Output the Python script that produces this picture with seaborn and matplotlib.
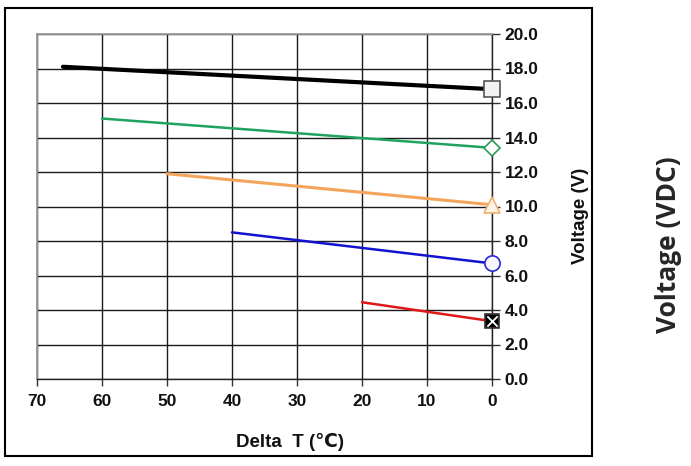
import numpy as np
import pandas as pd
import matplotlib
matplotlib.use("Agg")
import matplotlib.pyplot as plt
import seaborn as sns
from matplotlib.patches import Rectangle

# series: (delta T start, delta T end) and voltages
black_t = [66, 0]
black_v = [18.1, 16.8]
green_t = [60, 0]
green_v = [15.1, 13.4]
orange_t = [50, 0]
orange_v = [11.9, 10.1]
blue_t = [40, 0]
blue_v = [8.5, 6.7]
red_t = [20, 0]
red_v = [4.45, 3.35]

x_ticks = [70, 60, 50, 40, 30, 20, 10, 0]
y_ticks = [0, 2, 4, 6, 8, 10, 12, 14, 16, 18, 20]

sns.set_style("white")
plt.rcParams["font.family"] = ["Liberation Sans", "DejaVu Sans"]
plt.rcParams["font.weight"] = "bold"

fig = plt.figure(figsize=(6.91, 4.66), dpi=100)
ax = fig.add_axes([37 / 691, 1 - 379 / 466, 455 / 691, 345 / 466])

series = [
    (black_t, black_v, "black", 3.0, "s", 11, "#f2f2f2", "#555555"),
    (green_t, green_v, "#1fa35f", 1.8, "D", 8, "white", "#2a9d5c"),
    (orange_t, orange_v, "#f5a55a", 2.2, "^", 12, "#fff4e6", "#f0b070"),
    (blue_t, blue_v, "#1212d0", 1.8, "o", 11, "#f7f7ff", "#2a2ad0"),
    (red_t, red_v, "#e01818", 1.8, "s", 10, "black", "#333333"),
]

for t, v, col, lw, mk, ms, mfc, mec in series:
    df = pd.DataFrame({"t": t, "v": v})
    # keep the given order so the marker sits on the last point (delta T = 0)
    sns.lineplot(data=df, x="t", y="v", ax=ax, sort=False, color=col,
                 linewidth=lw, marker=mk, markevery=[len(t) - 1],
                 markersize=ms, markerfacecolor=mfc, markeredgecolor=mec,
                 markeredgewidth=1.2, clip_on=False, zorder=5)

# white cross inside the black square of the last series
sns.scatterplot(x=[red_t[-1]], y=[red_v[-1]], ax=ax, marker="x", color="white",
                s=55, linewidth=1.3, clip_on=False, zorder=6)

ax.set_xlim(70, 0)
ax.set_ylim(0, 20)
ax.set_xticks(x_ticks)
ax.set_yticks(y_ticks)
ax.set_yticklabels([f"{y:.1f}" for y in y_ticks])
ax.grid(True, color="#1a1a1a", linewidth=1.0)
ax.set_axisbelow(True)

ax.yaxis.tick_right()
ax.yaxis.set_label_position("right")
ax.tick_params(axis="y", which="major", direction="out", length=6, width=1,
               color="#333333", labelsize=12.5, pad=3, right=True, left=False)
ax.tick_params(axis="x", which="major", direction="out", length=5, width=1,
               color="#333333", labelsize=12.5, pad=6, bottom=True)
for lab in ax.get_xticklabels() + ax.get_yticklabels():
    lab.set_fontweight("bold")
    lab.set_color("#111111")

for side in ["left", "top"]:
    ax.spines[side].set_color("#9a9a9a")
    ax.spines[side].set_linewidth(1.3)
for side in ["right", "bottom"]:
    ax.spines[side].set_color("#222222")
    ax.spines[side].set_linewidth(1.0)

ax.set_xlabel("Delta  T (\u2103)", fontsize=13.5, fontweight="bold", color="#111111")
ax.xaxis.set_label_coords((290 - 37) / 455, -(433 - 379) / 345)
ax.set_ylabel("Voltage (V)", fontsize=13.5, fontweight="bold", color="#111111")
ax.yaxis.set_label_coords((572 - 37) / 455, (379 - 216) / 345)

# outer frame
fig.patches.append(Rectangle((5 / 691, 1 - 456 / 466), 587 / 691, 448 / 466,
                             transform=fig.transFigure, fill=False,
                             edgecolor="black", linewidth=1.5))

fig.text(669 / 691, 1 - 245 / 466, "Voltage (VDC)", rotation=90,
         ha="center", va="center", fontsize=19, fontweight="bold",
         family=["Open Sans", "DejaVu Sans"], color="#262626")

fig.savefig("out.png", dpi=100)
